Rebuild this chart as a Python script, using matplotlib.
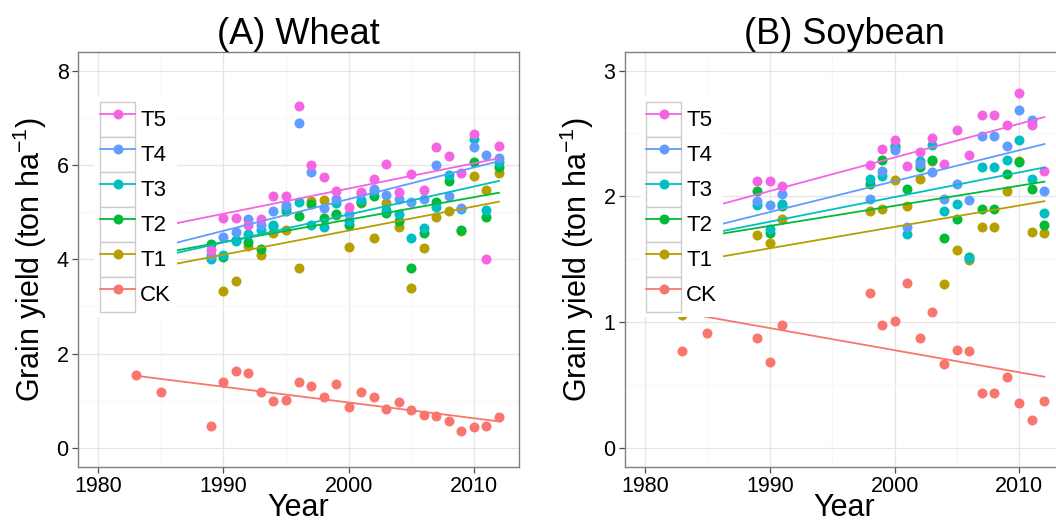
import numpy as np
import matplotlib
matplotlib.use('Agg')
import matplotlib.pyplot as plt
from matplotlib.patches import Rectangle
from matplotlib.lines import Line2D
from matplotlib.legend_handler import HandlerLine2D

plt.rcParams['font.family'] = ['Liberation Sans', 'DejaVu Sans']
plt.rcParams['mathtext.fontset'] = 'custom'
plt.rcParams['mathtext.rm'] = 'Liberation Sans'
plt.rcParams['mathtext.default'] = 'regular'

colors = {'CK': '#F8766D', 'T1': '#B79F00', 'T2': '#00BA38',
          'T3': '#00BFC4', 'T4': '#619CFF', 'T5': '#F564E3'}
treats = ['T1', 'T2', 'T3', 'T4', 'T5']
legend_order = ['T5', 'T4', 'T3', 'T2', 'T1', 'CK']

# ---- wheat ----
wheat_ck_years = [1983, 1985, 1989, 1990, 1991, 1992, 1993, 1994, 1995, 1996, 1997, 1998, 1999,
                  2000, 2001, 2002, 2003, 2004, 2005, 2006, 2007, 2008, 2009, 2010, 2011, 2012]
wheat_ck = [1.55, 1.18, 0.46, 1.39, 1.62, 1.58, 1.18, 0.99, 1.01, 1.39, 1.32, 1.08, 1.36,
            0.87, 1.19, 1.08, 0.82, 0.97, 0.80, 0.69, 0.67, 0.56, 0.35, 0.44, 0.46, 0.66]
# 1983 and 1985 treatment points sit behind the legend in the original
wheat_years = [1983, 1985, 1989, 1990, 1991, 1992, 1993, 1994, 1995, 1996, 1997, 1998, 1999,
               2000, 2001, 2002, 2003, 2004, 2005, 2006, 2007, 2008, 2009, 2010, 2011, 2012]
wheat_t5 = [3.61, 5.22, 4.20, 4.88, 4.87, 4.73, 4.86, 5.33, 5.33, 7.25, 6.00, 5.75, 5.45,
            5.11, 5.42, 5.71, 6.01, 5.43, 5.81, 5.47, 6.37, 6.19, 5.82, 6.65, 4.01, 6.40]
wheat_t4 = [3.29, 4.39, 4.09, 4.48, 4.57, 4.85, 4.72, 5.02, 5.15, 6.88, 5.84, 5.08, 5.27,
            4.95, 5.40, 5.49, 5.36, 5.28, 5.21, 5.28, 6.00, 5.35, 5.08, 6.37, 6.21, 6.15]
wheat_t3 = [3.02, 4.99, 4.00, 4.08, 4.38, 4.53, 4.62, 4.73, 5.08, 5.21, 4.73, 4.69, 5.19,
            4.80, 5.25, 5.45, 5.04, 4.95, 4.44, 4.67, 5.11, 5.78, 5.06, 6.54, 5.04, 6.07]
wheat_t2 = [4.02, 3.98, 4.32, 4.05, 4.41, 4.37, 4.21, 4.70, 5.03, 4.92, 5.16, 4.88, 4.95,
            4.72, 5.22, 5.35, 4.98, 4.81, 3.81, 4.55, 5.22, 5.66, 4.62, 6.07, 4.90, 5.96]
wheat_t1 = [4.93, 3.19, 4.05, 3.32, 3.54, 4.27, 4.09, 4.56, 4.62, 3.81, 5.23, 5.26, 4.93,
            4.25, 5.20, 4.45, 5.19, 4.68, 3.39, 4.23, 4.90, 5.02, 4.59, 5.76, 5.47, 5.82]

# ---- soybean ----
soy_ck_years = [1983, 1985, 1989, 1990, 1991, 1998, 1999, 2000, 2001, 2002, 2003,
                2004, 2005, 2006, 2007, 2008, 2009, 2010, 2011, 2012]
soy_ck = [0.77, 0.91, 0.87, 0.68, 0.98, 1.23, 0.98, 1.01, 1.31, 0.87, 1.08,
          0.67, 0.78, 0.77, 0.44, 0.44, 0.56, 0.36, 0.22, 0.37]
soy_years = [1983, 1985, 1989, 1990, 1991, 1998, 1999, 2000, 2001, 2002, 2003,
             2004, 2005, 2006, 2007, 2008, 2009, 2010, 2011, 2012]
soy_t5 = [1.88, 1.62, 2.12, 2.12, 2.08, 2.25, 2.38, 2.45, 2.24, 2.35, 2.46,
          2.26, 2.53, 2.33, 2.65, 2.65, 2.57, 2.82, 2.57, 2.20]
soy_t4 = [1.70, 1.61, 1.96, 1.93, 2.02, 1.98, 2.20, 2.37, 1.76, 2.26, 2.19,
          1.98, 2.10, 1.97, 2.48, 2.48, 2.40, 2.69, 2.61, 2.04]
soy_t3 = [1.67, 1.24, 1.93, 1.74, 1.94, 2.14, 2.16, 2.39, 1.70, 2.28, 2.41,
          1.88, 1.94, 1.51, 2.23, 2.23, 2.29, 2.45, 2.14, 1.87]
soy_t2 = [1.30, 1.27, 2.04, 1.71, 1.92, 2.10, 2.29, 2.40, 2.06, 2.23, 2.29,
          1.67, 1.82, 1.52, 1.90, 1.90, 2.18, 2.27, 2.06, 1.77]
soy_t1 = [1.06, 1.28, 1.69, 1.63, 1.82, 1.88, 1.90, 2.13, 1.92, 2.14, 2.28,
          1.30, 1.57, 1.49, 1.76, 1.76, 2.04, 2.28, 1.72, 1.71]


class BoxHandler(HandlerLine2D):
    # ggplot-like legend key: grey-outlined square behind line + point
    def create_artists(self, legend, orig_handle, xdescent, ydescent,
                       width, height, fontsize, trans):
        box = Rectangle((-xdescent, -ydescent), width, height, facecolor='white',
                        edgecolor='#cccccc', lw=1.0, transform=trans)
        arts = super().create_artists(legend, orig_handle, xdescent, ydescent,
                                      width, height, fontsize, trans)
        return [box] + arts


def panel(ax, title, ck_years, ck, years, series, ylim, yticks, yminor, leg_x):
    data = {'CK': (np.array(ck_years, float), np.array(ck, float))}
    for t in treats:
        data[t] = (np.array(years, float), np.array(series[t], float))
    for t in ['CK'] + treats:
        xs, ys = data[t]
        ax.scatter(xs, ys, s=52, color=colors[t], lw=0, zorder=2)
    # linear trend per group (lm fit over the group's own range)
    for t in ['CK'] + treats:
        xs, ys = data[t]
        k, b = np.polyfit(xs, ys, 1)
        xx = np.array([xs.min(), xs.max()])
        ax.plot(xx, k * xx + b, color=colors[t], lw=1.3, zorder=3)

    ax.set_xlim(1978.4, 2013.6)
    ax.set_ylim(*ylim)
    ax.set_xticks([1980, 1990, 2000, 2010])
    ax.set_xticks([1985, 1995, 2005], minor=True)
    ax.set_yticks(yticks)
    ax.set_yticks(yminor, minor=True)
    ax.grid(which='major', color='#e5e5e5', lw=0.9)
    ax.grid(which='minor', color='#f7f7f7', lw=0.9)
    ax.set_axisbelow(True)
    for sp in ax.spines.values():
        sp.set_color('#7f7f7f')
        sp.set_linewidth(1.0)
    ax.tick_params(which='major', length=4.3, width=0.9, color='#4d4d4d',
                   labelsize=15.5, labelcolor='black', pad=2.5)
    ax.tick_params(which='minor', length=0)
    ax.set_title(title, fontsize=26, pad=3)
    ax.set_xlabel('Year', fontsize=22, labelpad=-3)
    ax.set_ylabel('Grain yield (ton ha$^{-1}$)', fontsize=22, labelpad=5)

    handles = [Line2D([], [], color=colors[t], lw=1.3, marker='o', markersize=7.2,
                      markeredgewidth=0) for t in legend_order]
    leg = ax.legend(handles, legend_order, handler_map={Line2D: BoxHandler()},
                    loc='upper left', bbox_to_anchor=(leg_x, 0.8928), borderaxespad=0,
                    fontsize=16, handlelength=1.575, handleheight=2.046,
                    labelspacing=0, handletextpad=0.23, borderpad=0.25,
                    frameon=True, fancybox=False, framealpha=1)
    leg.get_frame().set_edgecolor('none')
    leg.get_frame().set_facecolor('white')


fig = plt.figure(figsize=(10.56, 5.23), dpi=100)
ax1 = fig.add_axes([78 / 1056, 56.3 / 523, 441 / 1056, 415 / 523])
ax2 = fig.add_axes([625 / 1056, 56.3 / 523, 439.3 / 1056, 415 / 523])

wheat_series = {'T1': wheat_t1, 'T2': wheat_t2, 'T3': wheat_t3, 'T4': wheat_t4, 'T5': wheat_t5}
soy_series = {'T1': soy_t1, 'T2': soy_t2, 'T3': soy_t3, 'T4': soy_t4, 'T5': soy_t5}

panel(ax1, '(A) Wheat', wheat_ck_years, wheat_ck, wheat_years, wheat_series,
      (-0.4, 8.4), [0, 2, 4, 6, 8], [1, 3, 5, 7], 0.0374)
panel(ax2, '(B) Soybean', soy_ck_years, soy_ck, soy_years, soy_series,
      (-0.15, 3.15), [0, 1, 2, 3], [0.5, 1.5, 2.5], 0.0353)

fig.savefig('out.png', dpi=100)
